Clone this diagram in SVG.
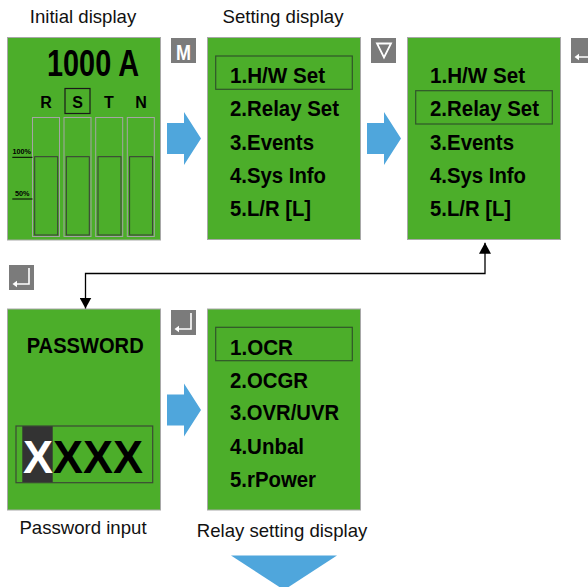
<svg xmlns="http://www.w3.org/2000/svg" xmlns:xlink="http://www.w3.org/1999/xlink" width="588" height="587" viewBox="0 0 588 587">
<style>
.panel{fill:#4cae2a;stroke:#a8a8a8;stroke-width:1}
.hl{fill:none;stroke:#30552a;stroke-width:1.2}
.menu{font-family:"Liberation Sans",Arial,sans-serif;font-weight:bold;font-size:22px;fill:#000}
.cap{font-family:"Liberation Sans",Arial,sans-serif;font-size:18.6px;fill:#111;text-anchor:middle}
.key{fill:#7b7b7b}
.blue{fill:#4fa6dc}
.barO{fill:none;stroke:#a5a5a5;stroke-width:1}
.barI{fill:none;stroke:#3a3a3a;stroke-width:1}
.small{font-family:"Liberation Sans",Arial,sans-serif;font-weight:bold;font-size:8px;fill:#000}
</style>
<defs>
<g id="enterGlyph">
<path d="M20,3 V19 H7" fill="none" stroke="#fff" stroke-width="1.6"/>
<polygon points="3.5,19 8,15.8 8,22.2" fill="#fff"/>
</g>
<marker id="ah" viewBox="0 0 11 12" refX="11" refY="6" markerWidth="11" markerHeight="12" markerUnits="userSpaceOnUse" orient="auto-start-reverse">
<path d="M0,0 L11,6 L0,12 Z" fill="#000"/>
</marker>
</defs>

<!-- captions -->
<text class="cap" x="83" y="22.5">Initial display</text>
<text class="cap" x="283" y="22.5">Setting display</text>
<text class="cap" x="83" y="533.5">Password input</text>
<text class="cap" x="282" y="536.5">Relay setting display</text>

<!-- key icons -->
<g id="key-M">
<rect class="key" x="171" y="38" width="25" height="25"/>
<text x="183.5" y="60" font-family="'Liberation Sans',Arial,sans-serif" font-weight="bold" font-size="22" fill="#fff" text-anchor="middle" textLength="15" lengthAdjust="spacingAndGlyphs">M</text>
</g>
<g id="key-down">
<rect class="key" x="371" y="38" width="25" height="25"/>
<polygon points="377,43.5 391,43.5 384,57.5" fill="none" stroke="#fff" stroke-width="1.8" stroke-linejoin="miter"/>
</g>
<g id="key-enter-1">
<rect class="key" x="571" y="38" width="25" height="25"/>
<use xlink:href="#enterGlyph" x="571" y="38"/>
</g>
<g id="key-enter-2">
<rect class="key" x="9" y="265" width="25" height="25"/>
<use xlink:href="#enterGlyph" x="9" y="265"/>
</g>
<g id="key-enter-3">
<rect class="key" x="171" y="310" width="25" height="25"/>
<use xlink:href="#enterGlyph" x="171" y="310"/>
</g>

<!-- Initial display -->
<g id="initial-display">
<rect class="panel" x="7.5" y="37.5" width="153" height="202.5"/>
<text x="47" y="76" font-family="'Liberation Sans',Arial,sans-serif" font-weight="bold" font-size="36" textLength="92" lengthAdjust="spacingAndGlyphs">1000 A</text>
<g font-family="'Liberation Sans',Arial,sans-serif" font-weight="bold" font-size="16" text-anchor="middle">
<text x="46" y="107.5">R</text>
<text x="77.5" y="107.5">S</text>
<text x="109" y="107.5">T</text>
<text x="141" y="107.5">N</text>
</g>
<rect x="65" y="88.5" width="25" height="25" fill="none" stroke="#1a1a1a" stroke-width="1.2"/>
<rect class="barO" x="32.5" y="117.5" width="27" height="119"/>
<rect class="barO" x="64" y="117.5" width="27" height="119"/>
<rect class="barO" x="95.7" y="117.5" width="27" height="119"/>
<rect class="barO" x="127.3" y="117.5" width="27" height="119"/>
<rect class="barI" x="34.7" y="156.7" width="23" height="78.3"/>
<rect class="barI" x="66.3" y="156.7" width="23" height="78.3"/>
<rect class="barI" x="98" y="156.7" width="23" height="78.3"/>
<rect class="barI" x="129.6" y="156.7" width="23" height="78.3"/>
<text class="small" x="12.5" y="154" textLength="18.5" lengthAdjust="spacingAndGlyphs">100%</text>
<text class="small" x="15" y="196" textLength="14.5" lengthAdjust="spacingAndGlyphs">50%</text>
<line x1="12.3" y1="157.3" x2="32.5" y2="157.3" stroke="#000" stroke-width="1"/>
<line x1="12.3" y1="199" x2="32.5" y2="199" stroke="#000" stroke-width="1"/>
</g>

<!-- Setting display -->
<g id="setting-display">
<rect class="panel" x="207.5" y="37.5" width="153" height="202"/>
<rect class="hl" x="215.7" y="56" width="136.6" height="33.3"/>
<text class="menu" x="230" y="83" textLength="95" lengthAdjust="spacingAndGlyphs">1.H/W Set</text>
<text class="menu" x="230" y="116.3" textLength="109" lengthAdjust="spacingAndGlyphs">2.Relay Set</text>
<text class="menu" x="230" y="149.5" textLength="84" lengthAdjust="spacingAndGlyphs">3.Events</text>
<text class="menu" x="230" y="182.7" textLength="96" lengthAdjust="spacingAndGlyphs">4.Sys Info</text>
<text class="menu" x="230" y="216" textLength="81" lengthAdjust="spacingAndGlyphs">5.L/R [L]</text>
</g>

<!-- Setting display, item 2 selected -->
<g id="setting-display-2">
<rect class="panel" x="407.5" y="37.5" width="153" height="202"/>
<rect class="hl" x="415.7" y="90.7" width="136.6" height="33.3"/>
<text class="menu" x="430" y="83" textLength="95" lengthAdjust="spacingAndGlyphs">1.H/W Set</text>
<text class="menu" x="430" y="116.3" textLength="109" lengthAdjust="spacingAndGlyphs">2.Relay Set</text>
<text class="menu" x="430" y="149.5" textLength="84" lengthAdjust="spacingAndGlyphs">3.Events</text>
<text class="menu" x="430" y="182.7" textLength="96" lengthAdjust="spacingAndGlyphs">4.Sys Info</text>
<text class="menu" x="430" y="216" textLength="81" lengthAdjust="spacingAndGlyphs">5.L/R [L]</text>
</g>

<!-- Password input -->
<g id="password-input">
<rect class="panel" x="7.5" y="309" width="153" height="201"/>
<text class="menu" x="26.7" y="353.3" textLength="117" lengthAdjust="spacingAndGlyphs">PASSWORD</text>
<rect x="22.3" y="426" width="30.4" height="56.7" fill="#333"/>
<rect x="16" y="426" width="136.7" height="56.7" fill="none" stroke="#3b4a35" stroke-width="1.2"/>
<text x="23" y="472.7" font-family="'Liberation Sans',Arial,sans-serif" font-weight="bold" font-size="46" textLength="120" lengthAdjust="spacingAndGlyphs"><tspan fill="#fff">X</tspan>XXX</text>
</g>

<!-- Relay setting display -->
<g id="relay-setting-display">
<rect class="panel" x="207.5" y="309" width="153" height="201"/>
<rect class="hl" x="215.7" y="327.3" width="136.6" height="33.4"/>
<text class="menu" x="230" y="354.5" textLength="63" lengthAdjust="spacingAndGlyphs">1.OCR</text>
<text class="menu" x="230" y="387.5" textLength="78" lengthAdjust="spacingAndGlyphs">2.OCGR</text>
<text class="menu" x="230" y="420.3" textLength="109" lengthAdjust="spacingAndGlyphs">3.OVR/UVR</text>
<text class="menu" x="230" y="453.5" textLength="74" lengthAdjust="spacingAndGlyphs">4.Unbal</text>
<text class="menu" x="230" y="486.7" textLength="86" lengthAdjust="spacingAndGlyphs">5.rPower</text>
</g>

<!-- connectors -->
<g id="connectors">
<path class="blue" d="M167,123 H184 V112 L201,138.5 L184,165 V154 H167 Z"/>
<path class="blue" d="M367,123 H384 V112 L401,138.5 L384,165 V154 H367 Z"/>
<path class="blue" d="M167,394.5 H184 V383.5 L201,410 L184,436.5 V425.5 H167 Z"/>
<polygon class="blue" points="231,555.5 337,555.5 284,590"/>
<path d="M485,242.7 V273.5 H85.5 V308.5" fill="none" stroke="#000" stroke-width="1.3" marker-start="url(#ah)" marker-end="url(#ah)"/>
</g>
</svg>
